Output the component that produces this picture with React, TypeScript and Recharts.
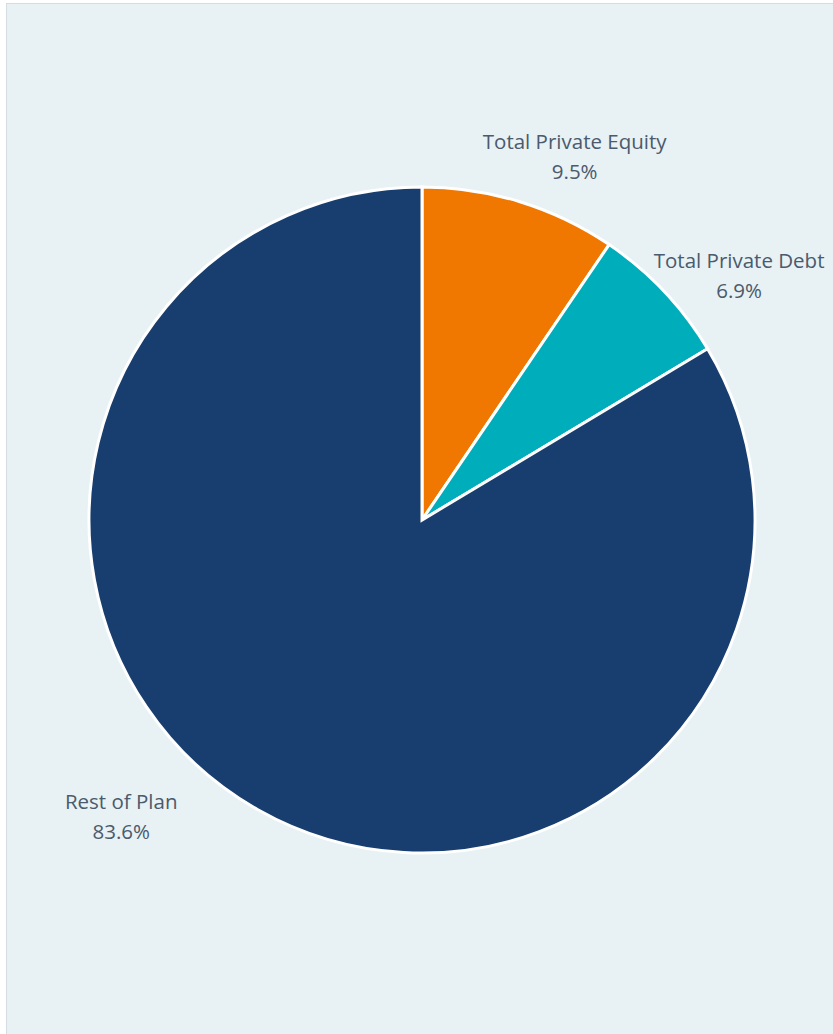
import React from 'react';
import { PieChart, Pie, Cell } from 'recharts';

const categories = ['Total Private Equity', 'Total Private Debt', 'Rest of Plan'];
const shares = [9.5, 6.9, 83.6];
const colors = ['#F07800', '#00ADBA', '#183E6F'];

// nudges that push each label off the base radius, like Excel's best fit
const labelNudges = [
  { dx: 43, dy: -7 },
  { dx: 46, dy: 11 },
  { dx: -117, dy: -29 },
];

const data = categories.map((name, i) => ({ name, value: shares[i] }));

const RADIAN = Math.PI / 180;

const renderLabel = (props: any) => {
  const { cx, cy, midAngle, outerRadius, index } = props;
  const r = outerRadius + 40;
  const x = cx + r * Math.cos(-midAngle * RADIAN) + labelNudges[index].dx;
  const y = cy + r * Math.sin(-midAngle * RADIAN) + labelNudges[index].dy;
  return (
    <text
      x={x}
      y={y}
      textAnchor="middle"
      fill="#4B5A6C"
      fontSize={20.5}
      fontFamily="'Open Sans', 'Noto Sans', sans-serif"
    >
      <tspan x={x} y={y - 15} dominantBaseline="central">{categories[index]}</tspan>
      <tspan x={x} y={y + 15} dominantBaseline="central">{shares[index].toFixed(1)}%</tspan>
    </text>
  );
};

const App: React.FC = () => {
  return (
    <div style={{ position: 'fixed', left: 0, top: 0, width: 833, height: 1034, overflow: 'hidden', background: '#fff' }}>
      <div
        style={{
          position: 'absolute',
          left: 6,
          top: 3,
          width: 840,
          height: 1040,
          background: '#E8F1F4',
          border: '1px solid #D6DDE2',
        }}
      />
      <div style={{ position: 'absolute', left: 0, top: 0 }}>
        <PieChart width={833} height={1034} margin={{ top: 0, right: 0, bottom: 0, left: 0 }}>
          <Pie
            data={data}
            dataKey="value"
            nameKey="name"
            cx={422}
            cy={520}
            outerRadius={333}
            startAngle={90}
            endAngle={-270}
            stroke="#FFFFFF"
            strokeWidth={3}
            label={renderLabel}
            labelLine={false}
            isAnimationActive={false}
          >
            {data.map((d, i) => (
              <Cell key={d.name} fill={colors[i]} />
            ))}
          </Pie>
        </PieChart>
      </div>
    </div>
  );
};

export default App;
